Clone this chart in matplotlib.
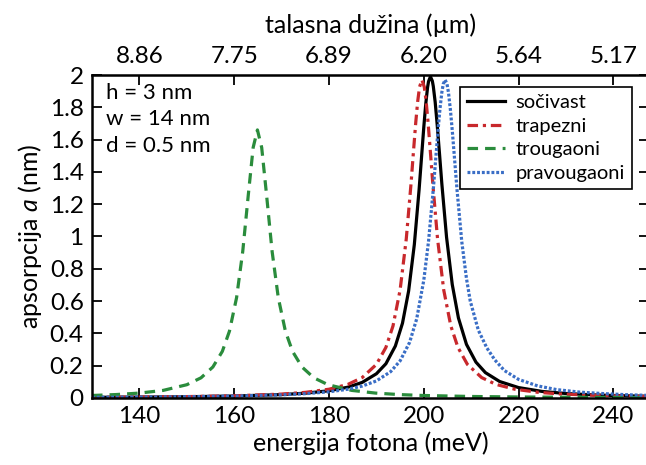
import matplotlib
matplotlib.use('Agg')
import matplotlib.pyplot as plt

# energija (meV) i apsorpcija (nm) ocitane sa slike
E_socivast = [130, 140, 150, 160, 170, 175, 180, 184, 187, 190, 192, 194, 195.5, 196.8, 198, 199, 199.5, 200,
              200.4, 200.8, 201.0, 201.4, 201.8, 202, 202.4, 202.8, 203.3, 203.8, 204.8, 206, 207.3, 209, 211,
              213, 216, 220, 225, 230, 236, 242, 247.5]
a_socivast = [0.0041, 0.0056, 0.0079, 0.0122, 0.0211, 0.0297, 0.0448, 0.067, 0.0965, 0.15, 0.212, 0.322, 0.463,
              0.663, 0.95, 1.288, 1.483, 1.678, 1.818, 1.925, 1.96, 1.99, 1.963, 1.93, 1.832, 1.70, 1.517, 1.328,
              0.995, 0.703, 0.496, 0.332, 0.222, 0.157, 0.102, 0.0644, 0.0405, 0.0277, 0.019, 0.0139, 0.0107]

E_trapezni = [130, 140, 150, 160, 170, 175, 180, 184, 187, 190, 192, 193.5, 195, 196.3, 197.3, 197.8, 198.3,
              198.7, 199.1, 199.6, 200.1, 200.5, 200.9, 201.4, 201.9, 202.9, 204.2, 205.7, 207.2, 209.2, 212.2,
              215.2, 219.2, 224.2, 229.2, 239.2, 247.5]
a_trapezni = [0.0044, 0.006, 0.0087, 0.0136, 0.0242, 0.0348, 0.0543, 0.0844, 0.1264, 0.208, 0.313, 0.446, 0.669,
              0.985, 1.326, 1.519, 1.706, 1.834, 1.926, 1.97, 1.926, 1.834, 1.706, 1.519, 1.326, 0.985, 0.669,
              0.446, 0.313, 0.208, 0.1264, 0.0844, 0.0543, 0.0348, 0.0242, 0.0136, 0.0091]

E_trougaoni = [130, 135, 140, 145, 150, 153, 155.5, 157.5, 159, 160.5, 161.8, 163, 164, 164.9, 165.8, 166.8,
               168, 169.3, 170.8, 172.3, 174.3, 176.8, 179.8, 184.8, 189.8, 194.8, 199.8, 210, 220, 235, 247.5]
a_trougaoni = [0.0156, 0.0212, 0.0304, 0.047, 0.0822, 0.125, 0.192, 0.289, 0.414, 0.621, 0.907, 1.265, 1.551,
               1.66, 1.551, 1.265, 0.907, 0.621, 0.414, 0.289, 0.192, 0.125, 0.0822, 0.047, 0.0304, 0.0212,
               0.0156, 0.0094, 0.0063, 0.0039, 0.0028]

E_pravougaoni = [130, 140, 150, 160, 170, 175, 180, 184, 187, 190, 193, 195, 197, 198.5, 200, 201, 202, 202.6,
                 203, 203.4, 203.8, 204.1, 204.5, 204.9, 205.2, 205.6, 206, 206.4, 207, 208, 209, 209.8, 211.5,
                 213.3, 215, 217, 220, 224, 228, 233, 238, 243, 247.5]
a_pravougaoni = [0.0042, 0.0056, 0.0079, 0.0118, 0.0195, 0.0266, 0.0383, 0.0543, 0.0738, 0.1056, 0.163, 0.23,
                 0.344, 0.49, 0.73, 0.971, 1.292, 1.512, 1.657, 1.788, 1.892, 1.944, 1.97, 1.944, 1.892, 1.788,
                 1.657, 1.512, 1.292, 0.97, 0.74, 0.6, 0.42, 0.31, 0.235, 0.17, 0.115, 0.075, 0.052, 0.036,
                 0.027, 0.02, 0.016]

# gornja osa: talasna duzina za energije 140..240 meV
E_ticks = [140, 160, 180, 200, 220, 240]
lambda_labels = ['8.86', '7.75', '6.89', '6.20', '5.64', '5.17']
y_ticks = [0, 0.2, 0.4, 0.6, 0.8, 1, 1.2, 1.4, 1.6, 1.8, 2]

plt.rcParams['font.family'] = ['Lato', 'DejaVu Sans']
plt.rcParams['mathtext.fontset'] = 'custom'
plt.rcParams['mathtext.rm'] = 'Lato'
plt.rcParams['mathtext.it'] = 'Lato:italic'
plt.rcParams['font.size'] = 17.5

fig = plt.figure(figsize=(6.46, 4.65), dpi=100)
ax = fig.add_axes([0.1424, 0.1441, 0.8622, 0.6946])

lw = 2.3
ax.plot(E_socivast, a_socivast, color='black', lw=lw, label='sočivast')
ax.plot(E_trapezni, a_trapezni, color='#c8282c', lw=lw, dashes=(3.3, 1.5, 1, 1.5), label='trapezni')
ax.plot(E_trougaoni, a_trougaoni, color='#2a8c3c', lw=lw, dashes=(3.3, 2.2), label='trougaoni')
ax.plot(E_pravougaoni, a_pravougaoni, color='#3a6ec6', lw=lw, dashes=(0.9, 0.6), label='pravougaoni')

ax.set_xlim(130, 247.5)
ax.set_ylim(0, 2)
ax.set_xticks(E_ticks)
ax.set_yticks(y_ticks)
ax.set_yticklabels(['{:g}'.format(v) for v in y_ticks])
ax.tick_params(direction='in', length=7, width=1.3, pad=6, right=True)
for s in ax.spines.values():
    s.set_linewidth(1.8)

ax.set_xlabel('energija fotona (meV)', fontsize=18, labelpad=3)
ax.set_ylabel('apsorpcija $a$ (nm)', fontsize=18, labelpad=4)

top = ax.secondary_xaxis('top')
top.set_xticks(E_ticks, lambda_labels)
top.tick_params(direction='in', length=7, width=1.3, pad=6)
top.set_xlabel('talasna dužina (µm)', fontsize=18, labelpad=9)

ax.text(0.025, 0.975, 'h = 3 nm\nw = 14 nm\nd = 0.5 nm', transform=ax.transAxes,
        va='top', ha='left', linespacing=1.4, fontsize=16)

leg = ax.legend(loc='upper right', bbox_to_anchor=(0.9695, 0.963), borderaxespad=0,
                fancybox=False, framealpha=1, edgecolor='black', handlelength=1.9,
                fontsize=14.5, labelspacing=0.32, borderpad=0.35, handletextpad=0.5)
leg.get_frame().set_linewidth(1.2)

plt.savefig('out.png', dpi=100)
